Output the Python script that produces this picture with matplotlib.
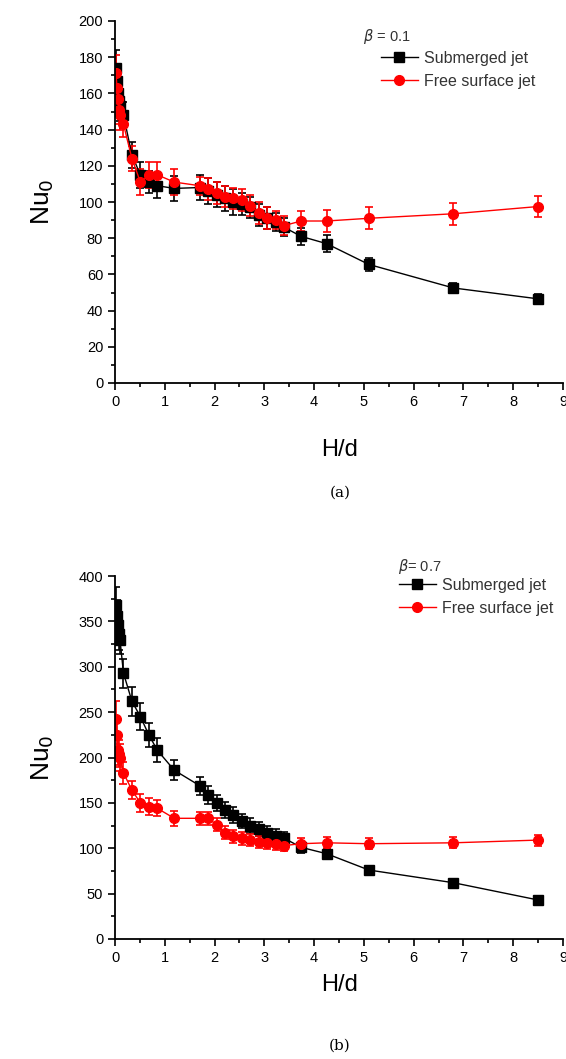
import matplotlib
matplotlib.use('Agg')
from matplotlib import pyplot as plt
from matplotlib.ticker import MultipleLocator
import numpy as np

plt.rcParams['font.family'] = ['Liberation Sans', 'DejaVu Sans']

# H/d positions shared by all series
hd = [0.02, 0.04, 0.06, 0.08, 0.10, 0.17, 0.34, 0.51, 0.68, 0.85, 1.19, 1.70, 1.87,
      2.04, 2.21, 2.38, 2.55, 2.72, 2.89, 3.06, 3.23, 3.40, 3.74, 4.25, 5.10, 6.80, 8.50]

# (a) beta = 0.1
a_sub = [174, 167, 160, 156, 153, 148, 126, 115, 111, 109, 107.5, 108, 106,
         104, 102, 100, 99, 97, 93, 91, 89, 86, 81, 77, 65.5, 52.5, 46.5]
a_sub_err = [10, 9, 9, 8, 8, 7, 7, 7, 6, 7, 7, 7, 7,
             7, 7, 7, 6, 6, 6, 6, 5, 5, 4.5, 4.5, 3.5, 2.5, 2.5]
a_free = [171, 163, 157, 151, 148, 143, 124, 111, 115, 115, 111, 109, 107,
          105, 103, 102, 101, 98, 94, 91, 90, 87, 89.5, 89.5, 91, 93.5, 97.5]
a_free_err = [10, 9, 9, 8, 8, 7, 7, 7, 7, 7, 7, 5, 6,
              6, 6, 6, 6, 6, 6, 6, 5, 5, 5.5, 6, 6, 6, 6]

# (b) beta = 0.7
b_sub = [368, 356, 346, 336, 330, 293, 262, 245, 225, 208, 186, 169, 159,
         150, 142, 137, 130, 125, 121, 117, 114, 111, 101, 94, 76, 62, 43]
b_sub_err = [20, 18, 18, 17, 16, 16, 16, 15, 13, 13, 11, 10, 10,
             9, 9, 9, 8, 8, 8, 7, 7, 7, 6, 5, 3, 3, 3]
b_free = [242, 225, 208, 204, 200, 183, 164, 150, 146, 144, 133, 133, 133,
          126, 117, 113, 111, 109, 107, 106, 105, 103, 105, 106, 105, 106, 109]
b_free_err = [20, 18, 16, 15, 15, 12, 10, 10, 9, 9, 8, 7, 7,
              7, 7, 7, 7, 7, 7, 7, 7, 6, 6, 6, 6, 6, 6]

W, H = 566, 1059
fig = plt.figure(figsize=(W / 100, H / 100), dpi=100)

panels = [
    # axes rect, data, y range, beta text + pos, legend anchor, x label y, caption
    ([115 / W, 1 - 383 / H, 448 / W, 362 / H], a_sub, a_sub_err, a_free, a_free_err,
     200, 20, 10, r'$\beta$ = 0.1', (363, 37), (381, 51), 450, 493, '(a)'),
    ([115 / W, 1 - 939 / H, 448 / W, 363 / H], b_sub, b_sub_err, b_free, b_free_err,
     400, 50, 25, r'$\beta$= 0.7', (398, 567), (399, 578), 985, 1046, '(b)'),
]

for (rect, sub, sub_e, free, free_e, ymax, major, minor, btxt, bpos, anchor,
     xl_y, cap_y, cap) in panels:
    ax = fig.add_axes(rect)
    c1 = ax.errorbar(hd, sub, yerr=sub_e, color='black', marker='s', markersize=6.5,
                     linewidth=1, elinewidth=1.2, capsize=3, capthick=1.2)
    c2 = ax.errorbar(hd, free, yerr=free_e, color='red', marker='o', markersize=7,
                     linewidth=1, elinewidth=1.2, capsize=3, capthick=1.2)
    ax.set_xlim(0, 9)
    ax.set_ylim(0, ymax)
    ax.xaxis.set_major_locator(MultipleLocator(1))
    ax.xaxis.set_minor_locator(MultipleLocator(0.5))
    ax.yaxis.set_major_locator(MultipleLocator(major))
    ax.yaxis.set_minor_locator(MultipleLocator(minor))
    ax.spines['top'].set_visible(False)
    ax.spines['right'].set_visible(False)
    ax.spines['left'].set_linewidth(1.3)
    ax.spines['bottom'].set_linewidth(1.3)
    ax.tick_params(which='major', direction='out', length=5, width=1.2, labelsize=10.5)
    ax.tick_params(which='minor', direction='out', length=3, width=1.2)
    ax.set_ylabel('Nu$_0$', fontsize=19, labelpad=16)

    fig.text(bpos[0] / W, 1 - bpos[1] / H, btxt, fontsize=10.5, ha='left', va='center',
             color='#333333')
    fig.legend([c1[0], c2[0]], ['Submerged jet', 'Free surface jet'], loc='upper left',
               bbox_to_anchor=(anchor[0] / W, 1 - anchor[1] / H),
               frameon=False, fontsize=11.5, handlelength=2.3, handletextpad=0.4,
               labelspacing=0.5, borderpad=0, borderaxespad=0, labelcolor='#333333')
    fig.text(340 / W, 1 - xl_y / H, 'H/d', fontsize=17, ha='center', va='center')
    fig.text(340 / W, 1 - cap_y / H, cap, fontsize=11, ha='center', va='center',
             family=['DejaVu Serif'])

fig.savefig('out.png', dpi=100)
